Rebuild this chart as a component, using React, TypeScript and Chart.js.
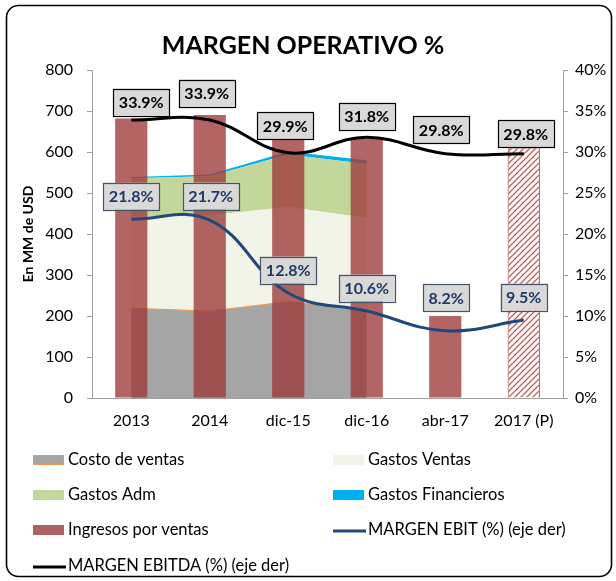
import React, { useEffect, useRef } from 'react';
import { Chart, registerables } from 'chart.js';
Chart.register(...registerables);

const categories = ['2013', '2014', 'dic-15', 'dic-16', 'abr-17', '2017 (P)'];
const ingresosVentas = [682, 690, 632, 632, 200, 611];
const costoVentas = [219, 212, 235, 215];
const gastosVentas = [223, 234, 231, 224];
const gastosAdm = [94, 95, 128, 132];
const gastosFinancieros = [3, 4, 7, 9];
const margenEbit = [21.8, 21.7, 12.8, 10.6, 8.2, 9.5];
const margenEbitda = [33.9, 33.9, 29.9, 31.8, 29.8, 29.8];

const TITLE = 'MARGEN OPERATIVO %';
const Y_TITLE = 'En MM de USD';
const FONT = 'Lato, "Open Sans", "DejaVu Sans", sans-serif';
const AXIS_GREY = '#a0a0a0';

// label placement (pixel offsets relative to each point), styling only
const EBITDA_LABEL_OFF = [[10, -18], [-3, -27], [-3, -27], [0, -21], [-4, -24], [2, -20]];
const EBIT_LABEL_OFF = [[0, -23], [1, -24], [0, -23], [0, -23], [1, -33], [0, -23]];

function makeHatch(): CanvasPattern | string {
  const c = document.createElement('canvas');
  c.width = 6;
  c.height = 6;
  const g = c.getContext('2d');
  if (!g) return '#c0504d';
  g.fillStyle = '#ffffff';
  g.fillRect(0, 0, 6, 6);
  g.strokeStyle = '#c65b5b';
  g.lineWidth = 1.3;
  g.beginPath();
  g.moveTo(0, 6); g.lineTo(6, 0);
  g.moveTo(-1, 1); g.lineTo(1, -1);
  g.moveTo(5, 7); g.lineTo(7, 5);
  g.stroke();
  const p = g.createPattern(c, 'repeat');
  return p || '#c0504d';
}

function roundRectPath(ctx: CanvasRenderingContext2D, x: number, y: number, w: number, h: number, r: number) {
  ctx.beginPath();
  ctx.moveTo(x + r, y);
  ctx.lineTo(x + w - r, y);
  ctx.arcTo(x + w, y, x + w, y + r, r);
  ctx.lineTo(x + w, y + h - r);
  ctx.arcTo(x + w, y + h, x + w - r, y + h, r);
  ctx.lineTo(x + r, y + h);
  ctx.arcTo(x, y + h, x, y + h - r, r);
  ctx.lineTo(x, y + r);
  ctx.arcTo(x, y, x + r, y, r);
  ctx.closePath();
}

const decorPlugin = {
  id: 'decor',
  beforeDraw(chart: any) {
    const ctx: CanvasRenderingContext2D = chart.ctx;
    ctx.save();
    ctx.fillStyle = '#ffffff';
    ctx.fillRect(0, 0, chart.width, chart.height);
    roundRectPath(ctx, 6.5, 5.5, 605, 571, 12);
    ctx.lineWidth = 1.6;
    ctx.strokeStyle = '#000000';
    ctx.stroke();
    ctx.fillStyle = '#000000';
    ctx.font = `bold 25px ${FONT}`;
    ctx.textAlign = 'center';
    ctx.textBaseline = 'middle';
    ctx.fillText(TITLE, 303, 46);
    ctx.restore();
  },
  afterDraw(chart: any) {
    const ctx: CanvasRenderingContext2D = chart.ctx;
    ctx.save();
    // value labels
    const drawLabels = (dsIndex: number, offs: number[][], textColor: string, borderColor: string) => {
      const meta = chart.getDatasetMeta(dsIndex);
      const ds = chart.data.datasets[dsIndex];
      ctx.font = `bold 16px ${FONT}`;
      meta.data.forEach((pt: any, i: number) => {
        const txt = ds.data[i].toFixed(1) + '%';
        const w = ctx.measureText(txt).width + 11;
        const h = 27;
        const cx = pt.x + offs[i][0];
        const cy = pt.y + offs[i][1];
        ctx.fillStyle = '#d9d9d9';
        ctx.fillRect(cx - w / 2, cy - h / 2, w, h);
        ctx.lineWidth = 1.2;
        ctx.strokeStyle = borderColor;
        ctx.strokeRect(Math.round(cx - w / 2) + 0.5, Math.round(cy - h / 2) + 0.5, Math.round(w), h);
        ctx.fillStyle = textColor;
        ctx.textAlign = 'center';
        ctx.textBaseline = 'middle';
        ctx.fillText(txt, cx, cy + 1);
      });
    };
    drawLabels(6, EBITDA_LABEL_OFF, '#000000', '#000000');
    drawLabels(5, EBIT_LABEL_OFF, '#1f3864', '#44546a');

    // legend
    const cols = [33, 333];
    const rows = [460, 495, 530, 566];
    ctx.font = `16.5px ${FONT}`;
    ctx.textAlign = 'left';
    ctx.textBaseline = 'middle';
    chart.data.datasets.forEach((ds: any, i: number) => {
      const x = cols[i % 2];
      const y = rows[Math.floor(i / 2)];
      if (ds.type === 'line' && !ds.fill) {
        ctx.strokeStyle = ds.borderColor;
        ctx.lineWidth = 3;
        ctx.beginPath();
        ctx.moveTo(x, y + 1);
        ctx.lineTo(x + 33, y + 1);
        ctx.stroke();
      } else {
        const fill = ds.legendColor || ds.backgroundColor;
        ctx.fillStyle = fill;
        ctx.fillRect(x, y - 5, 31, 10);
        if (ds.legendBorder) {
          ctx.strokeStyle = ds.legendBorder;
          ctx.lineWidth = 1;
          ctx.strokeRect(x + 0.5, y - 4.5, 30, 9);
        }
      }
      ctx.fillStyle = '#000000';
      ctx.fillText(ds.label, x + 35, y);
    });
    ctx.restore();
  },
};

export default function App() {
  const ref = useRef<HTMLCanvasElement | null>(null);
  useEffect(() => {
    if (!ref.current) return;
    const hatch = makeHatch();
    const barColor = 'rgba(158, 56, 56, 0.78)';
    const chart = new Chart(ref.current, {
      data: {
        labels: categories,
        datasets: [
          {
            type: 'line', label: 'Costo de ventas', data: costoVentas, yAxisID: 'y', stack: 'costs',
            fill: 'origin', backgroundColor: '#a5a5a5', borderColor: '#f79646', borderWidth: 1,
            tension: 0, pointRadius: 0, order: 10, legendBorder: '#f79646',
          } as any,
          {
            type: 'line', label: 'Gastos Ventas', data: gastosVentas, yAxisID: 'y', stack: 'costs',
            fill: '-1', backgroundColor: '#f1f4e7', borderColor: 'rgba(0,0,0,0)', borderWidth: 0,
            tension: 0, pointRadius: 0, order: 10,
          } as any,
          {
            type: 'line', label: 'Gastos Adm', data: gastosAdm, yAxisID: 'y', stack: 'costs',
            fill: '-1', backgroundColor: '#c4d79b', borderColor: 'rgba(0,0,0,0)', borderWidth: 0,
            tension: 0, pointRadius: 0, order: 10,
          } as any,
          {
            type: 'line', label: 'Gastos Financieros', data: gastosFinancieros, yAxisID: 'y', stack: 'costs',
            fill: '-1', backgroundColor: '#00b0f0', borderColor: 'rgba(0,0,0,0)', borderWidth: 0,
            tension: 0, pointRadius: 0, order: 10,
          } as any,
          {
            type: 'bar', label: 'Ingresos por ventas', data: ingresosVentas, yAxisID: 'y', stack: 'bars',
            backgroundColor: categories.map((_, i) => (i === categories.length - 1 ? hatch : barColor)),
            borderColor: categories.map((_, i) => (i === categories.length - 1 ? '#953735' : 'rgba(0,0,0,0)')),
            borderWidth: categories.map((_, i) => (i === categories.length - 1 ? 1 : 0)),
            barPercentage: 0.41, categoryPercentage: 1, order: 5, legendColor: '#b06262',
          } as any,
          {
            type: 'line', label: 'MARGEN EBIT (%) (eje der)', data: margenEbit, yAxisID: 'y1',
            borderColor: '#1f497d', borderWidth: 3, tension: 0.4, pointRadius: 0, fill: false, order: 1,
          } as any,
          {
            type: 'line', label: 'MARGEN EBITDA (%) (eje der)', data: margenEbitda, yAxisID: 'y1',
            borderColor: '#000000', borderWidth: 3, tension: 0.4, pointRadius: 0, fill: false, order: 0,
          } as any,
        ],
      },
      options: {
        responsive: false,
        animation: false,
        events: [],
        layout: { padding: { top: 70, bottom: 153, left: 0, right: 0 } },
        plugins: {
          legend: { display: false },
          title: { display: false },
          tooltip: { enabled: false },
        },
        scales: {
          x: {
            offset: true,
            grid: { display: false, drawTicks: false },
            border: { display: true, color: AXIS_GREY, width: 1 },
            ticks: { color: '#000', font: { family: FONT, size: 16 }, padding: 13, maxRotation: 0, autoSkip: false },
            afterFit: (s: any) => { s.height = 30; },
          },
          y: {
            position: 'left',
            stacked: true,
            min: 0, max: 800,
            ticks: { stepSize: 100, color: '#000', font: { family: FONT, size: 16 }, padding: 14 },
            grid: { display: true, drawOnChartArea: false, drawTicks: true, tickLength: 5, color: AXIS_GREY },
            border: { display: true, color: AXIS_GREY, width: 1 },
            title: {
              display: true, text: Y_TITLE, color: '#000',
              font: { family: FONT, size: 14, weight: 'bold' }, padding: { top: 20, bottom: 0 },
            },
            afterFit: (s: any) => { s.width = 92; },
          },
          y1: {
            position: 'right',
            min: 0, max: 40,
            ticks: { stepSize: 5, color: '#000', font: { family: FONT, size: 16 }, padding: 7, callback: (v: any) => v + '%' },
            grid: { display: true, drawOnChartArea: false, drawTicks: true, tickLength: 5, color: AXIS_GREY },
            border: { display: true, color: AXIS_GREY, width: 1 },
            afterFit: (s: any) => { s.width = 53; },
          },
        },
      } as any,
      plugins: [decorPlugin as any],
    });
    return () => chart.destroy();
  }, []);
  return (
    <div style={{ position: 'absolute', left: 0, top: 0, width: 616, height: 581 }}>
      <canvas ref={ref} width={616} height={581} style={{ width: 616, height: 581, display: 'block' }} />
    </div>
  );
}
